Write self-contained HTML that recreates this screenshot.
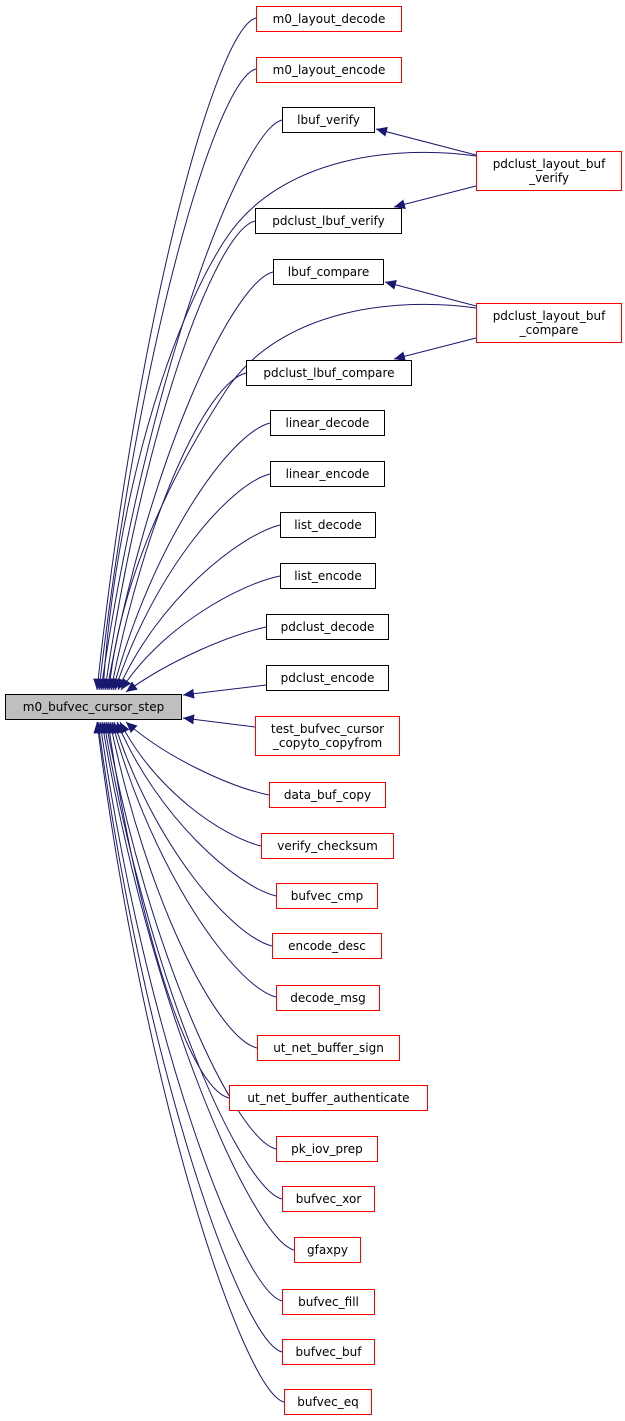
<!DOCTYPE html>
<html><head><meta charset="utf-8"><style>
body{margin:0;width:625px;height:1421px;background:#fff;position:relative;overflow:hidden;font-family:"DejaVu Sans","Liberation Sans",sans-serif;font-size:12px}
.n{position:absolute;box-sizing:border-box;border:1px solid #000;background:#fff;display:flex;align-items:center;justify-content:center;text-align:center;line-height:14px;color:#000;white-space:nowrap}
.r{border-color:#ff0000}
svg{position:absolute;left:0;top:0}
</style></head><body>
<svg width="625" height="1421" viewBox="0 0 625 1421">
<defs><marker id="a" markerUnits="userSpaceOnUse" markerWidth="12" markerHeight="10" refX="11" refY="5" orient="auto"><path d="M0,0 L11,5 L0,10 z" fill="#191970"/></marker></defs>
<g fill="none" stroke="#191970" stroke-width="1" marker-end="url(#a)">
<path d="M256,18 C216,28 137,318 97,690"/>
<path d="M256,69 C216,79 138,348 99,690"/>
<path d="M282,120 C242,130 146,377 101,690"/>
<path d="M476,156 C400,145 280,155 225,240 S 115,500 103,690"/>
<path d="M255,221 C215,231 142,432 105,690"/>
<path d="M273,272 C233,282 148,460 107,690"/>
<path d="M476,308 C400,297 280,307 225,392 S 120,580 109,690"/>
<path d="M246,373 C206,383 145,516 111,690"/>
<path d="M270,423 C230,433 152,543 113,690"/>
<path d="M270,474 C230,484 154,571 115,690"/>
<path d="M280,525 C240,535 158,599 118,690"/>
<path d="M280,576 C240,584 161,627 121,690"/>
<path d="M266,627 C230,635 170,660 126,692"/>
<path d="M266,685 L183,695"/>
<path d="M255,727 L183,718"/>
<path d="M269,795 C230,787 165,757 126,722"/>
<path d="M261,846 C221,836 155,790 120,722"/>
<path d="M276,896 C236,886 157,817 117,722"/>
<path d="M272,946 C232,936 153,845 114,722"/>
<path d="M276,997 C236,987 153,873 112,722"/>
<path d="M257,1048 C217,1038 147,901 110,722"/>
<path d="M229,1098 C189,1088 138,928 108,722"/>
<path d="M276,1149 C236,1139 148,956 106,722"/>
<path d="M282,1199 C242,1189 148,984 104,722"/>
<path d="M294,1250 C254,1240 150,1012 102,722"/>
<path d="M282,1301 C242,1291 145,1040 100,722"/>
<path d="M282,1352 C242,1342 144,1068 98,722"/>
<path d="M284,1402 C244,1392 144,1096 97,722"/>
<path d="M476,155 L376,129"/>
<path d="M476,186 L394,207"/>
<path d="M476,306 L385,282"/>
<path d="M476,338 L394,359"/>
</g>
</svg>
<div class="n" style="left:5px;top:694px;width:177px;height:26px;background:#bfbfbf">m0_bufvec_cursor_step</div>
<div class="n r" style="left:256px;top:6px;width:146px;height:26px">m0_layout_decode</div>
<div class="n r" style="left:256px;top:57px;width:146px;height:26px">m0_layout_encode</div>
<div class="n" style="left:282px;top:107px;width:93px;height:26px">lbuf_verify</div>
<div class="n r" style="left:476px;top:151px;width:146px;height:40px">pdclust_layout_buf<br>_verify</div>
<div class="n" style="left:255px;top:208px;width:147px;height:26px">pdclust_lbuf_verify</div>
<div class="n" style="left:273px;top:259px;width:111px;height:26px">lbuf_compare</div>
<div class="n r" style="left:476px;top:303px;width:146px;height:40px">pdclust_layout_buf<br>_compare</div>
<div class="n" style="left:246px;top:360px;width:166px;height:26px">pdclust_lbuf_compare</div>
<div class="n" style="left:270px;top:410px;width:115px;height:26px">linear_decode</div>
<div class="n" style="left:270px;top:461px;width:115px;height:26px">linear_encode</div>
<div class="n" style="left:280px;top:512px;width:96px;height:26px">list_decode</div>
<div class="n" style="left:280px;top:563px;width:96px;height:26px">list_encode</div>
<div class="n" style="left:266px;top:614px;width:123px;height:26px">pdclust_decode</div>
<div class="n" style="left:266px;top:665px;width:123px;height:26px">pdclust_encode</div>
<div class="n r" style="left:255px;top:716px;width:145px;height:40px">test_bufvec_cursor<br>_copyto_copyfrom</div>
<div class="n r" style="left:269px;top:782px;width:117px;height:26px">data_buf_copy</div>
<div class="n r" style="left:261px;top:833px;width:133px;height:26px">verify_checksum</div>
<div class="n r" style="left:276px;top:883px;width:102px;height:26px">bufvec_cmp</div>
<div class="n r" style="left:272px;top:933px;width:110px;height:26px">encode_desc</div>
<div class="n r" style="left:276px;top:985px;width:104px;height:26px">decode_msg</div>
<div class="n r" style="left:257px;top:1035px;width:143px;height:26px">ut_net_buffer_sign</div>
<div class="n r" style="left:229px;top:1085px;width:199px;height:26px">ut_net_buffer_authenticate</div>
<div class="n r" style="left:276px;top:1136px;width:102px;height:26px">pk_iov_prep</div>
<div class="n r" style="left:282px;top:1186px;width:93px;height:26px">bufvec_xor</div>
<div class="n r" style="left:294px;top:1237px;width:67px;height:26px">gfaxpy</div>
<div class="n r" style="left:282px;top:1289px;width:93px;height:26px">bufvec_fill</div>
<div class="n r" style="left:282px;top:1339px;width:93px;height:26px">bufvec_buf</div>
<div class="n r" style="left:284px;top:1389px;width:88px;height:26px">bufvec_eq</div>
</body></html>
